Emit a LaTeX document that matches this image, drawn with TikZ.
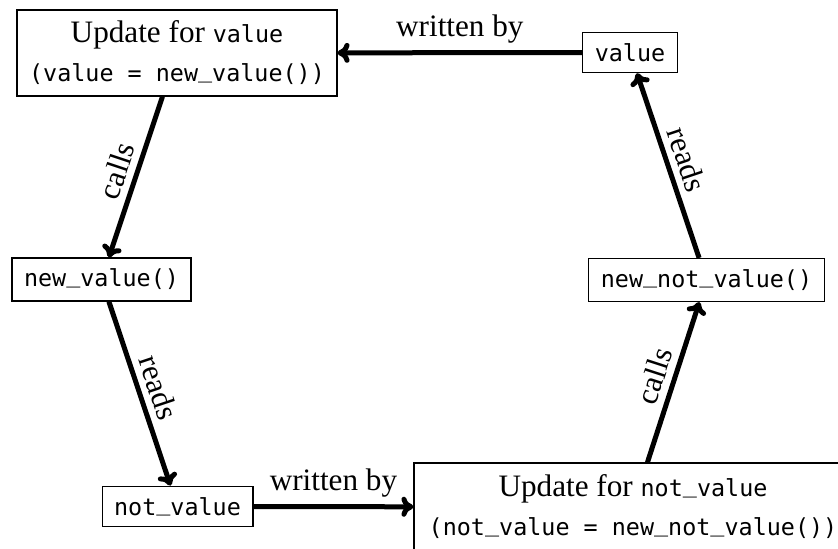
\documentclass[tikz,border=0pt]{standalone}
\usepackage{fontspec}
\setmainfont{Liberation Serif}
\setmonofont[Scale=0.75]{DejaVu Sans Mono}
\usepackage{tikz}
\usetikzlibrary{arrows.meta}
\tikzset{>={Computer Modern Rightarrow[length=6pt,width=10pt]}}
\tikzset{
    codebox/.style={draw, line width=0.6pt, inner xsep=6pt, inner ysep=5.5pt, align=center},
    link/.style={->, line width=2.5pt},
}
\newcommand{\us}{\raisebox{0.2em}{\_}}

\begin{document}
\begin{tikzpicture}[x=0.5pt, y=-0.5pt, font=\fontsize{15.6}{19.5}\selectfont]
    \clip (0,0) rectangle (838,548);

    \node[codebox] (updval) at (177,53) {Update for \texttt{value}\\\texttt{(value = new\us value())}};
    \node[codebox] (val) at (630,52.5) {\texttt{value}};
    \node[codebox] (newval) at (101.5,279.5) {\texttt{new\us value()}};
    \node[codebox] (newnotval) at (706.5,280) {\texttt{new\us not\us value()}};
    \node[codebox] (notval) at (177.5,506.5) {\texttt{not\us value}};
    \node[codebox, minimum width=219pt, minimum height=44pt] (updnotval) at (633,507) {Update for \texttt{not\us value}\\\texttt{(not\us value = new\us not\us value())}};

    \draw[link] (val) -- (updval) node[midway, above] {written by};
    \draw[link] (updval) -- (newval) node[midway, above, sloped] {calls};
    \draw[link] (newval) -- (notval) node[midway, above, sloped] {reads};
    \draw[link] (notval) -- (updnotval) node[midway, above] {written by};
    \draw[link] (updnotval) -- (newnotval) node[midway, above, sloped] {calls};
    \draw[link] (newnotval) -- (val) node[midway, above, sloped] {reads};
\end{tikzpicture}
\end{document}
